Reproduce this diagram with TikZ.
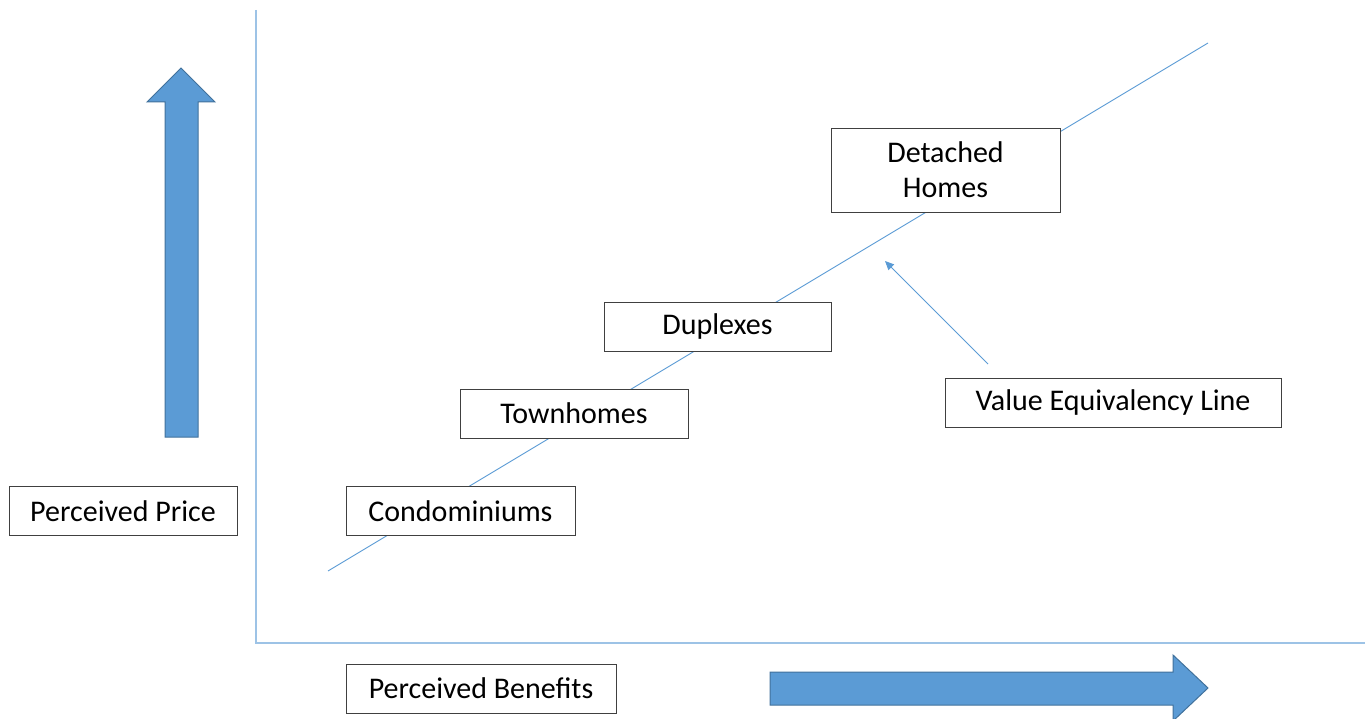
\documentclass[tikz,border=0pt]{standalone}
\usepackage{fontspec}
\setmainfont{Carlito}
\usetikzlibrary{arrows.meta}
\definecolor{ofblue}{HTML}{5B9BD5}
\definecolor{ofdark}{HTML}{41719C}
\definecolor{axiscol}{HTML}{9DC3E6}
\tikzset{
  lbl/.style={draw=black!75, line width=0.9pt, fill=white, minimum height=49pt, inner sep=0pt, font=\fontsize{30}{35}\selectfont, align=center},
  bigarrow/.style={fill=ofblue, draw=ofdark, line width=1pt, line join=miter},
  thinline/.style={draw=ofblue, line width=0.9pt}
}
\begin{document}
\begin{tikzpicture}[x=1pt,y=-1pt]
\useasboundingbox (0,0) rectangle (1365,719);
% axes
\draw[draw=axiscol, line width=1.2pt] (256,10) -- (256,643) -- (1365,643);
% value line
\coordinate (v0) at (328,571);
\coordinate (v1) at (1208,43);
\draw[thinline] (v0) -- (v1);
% big arrows
\draw[bigarrow] (165,437) -- (165,102) -- (147,102) -- (181,68) -- (215,102) -- (198,102) -- (198,437) -- cycle;
\draw[bigarrow] (770,672) -- (1173,672) -- (1173,655) -- (1208,688) -- (1173,721) -- (1173,705) -- (770,705) -- cycle;
% boxes
\node[lbl, minimum width=228pt] (price) at (123,511) {Perceived Price};
\node[lbl, minimum width=229pt] (condo) at (460.5,511) {Condominiums};
\node[lbl, minimum width=228pt] (town) at (574,413.5) {Townhomes};
\node[lbl, minimum width=227pt] (dup) at (717.5,327) {Duplexes};
\node[lbl, minimum width=229pt, minimum height=84pt] (det) at (945.5,170) {Detached\\Homes};
\node[lbl, minimum width=336pt] (vel) at (1113,402.5) {Value Equivalency Line};
\node[lbl, minimum width=270pt] (ben) at (481,688.5) {Perceived Benefits};
% pointer
\coordinate (ptail) at (988,364);
\coordinate (ptip) at (885,261);
\draw[thinline, -{Triangle[length=9pt,width=8pt]}] (ptail) -- (ptip);
\end{tikzpicture}
\end{document}
